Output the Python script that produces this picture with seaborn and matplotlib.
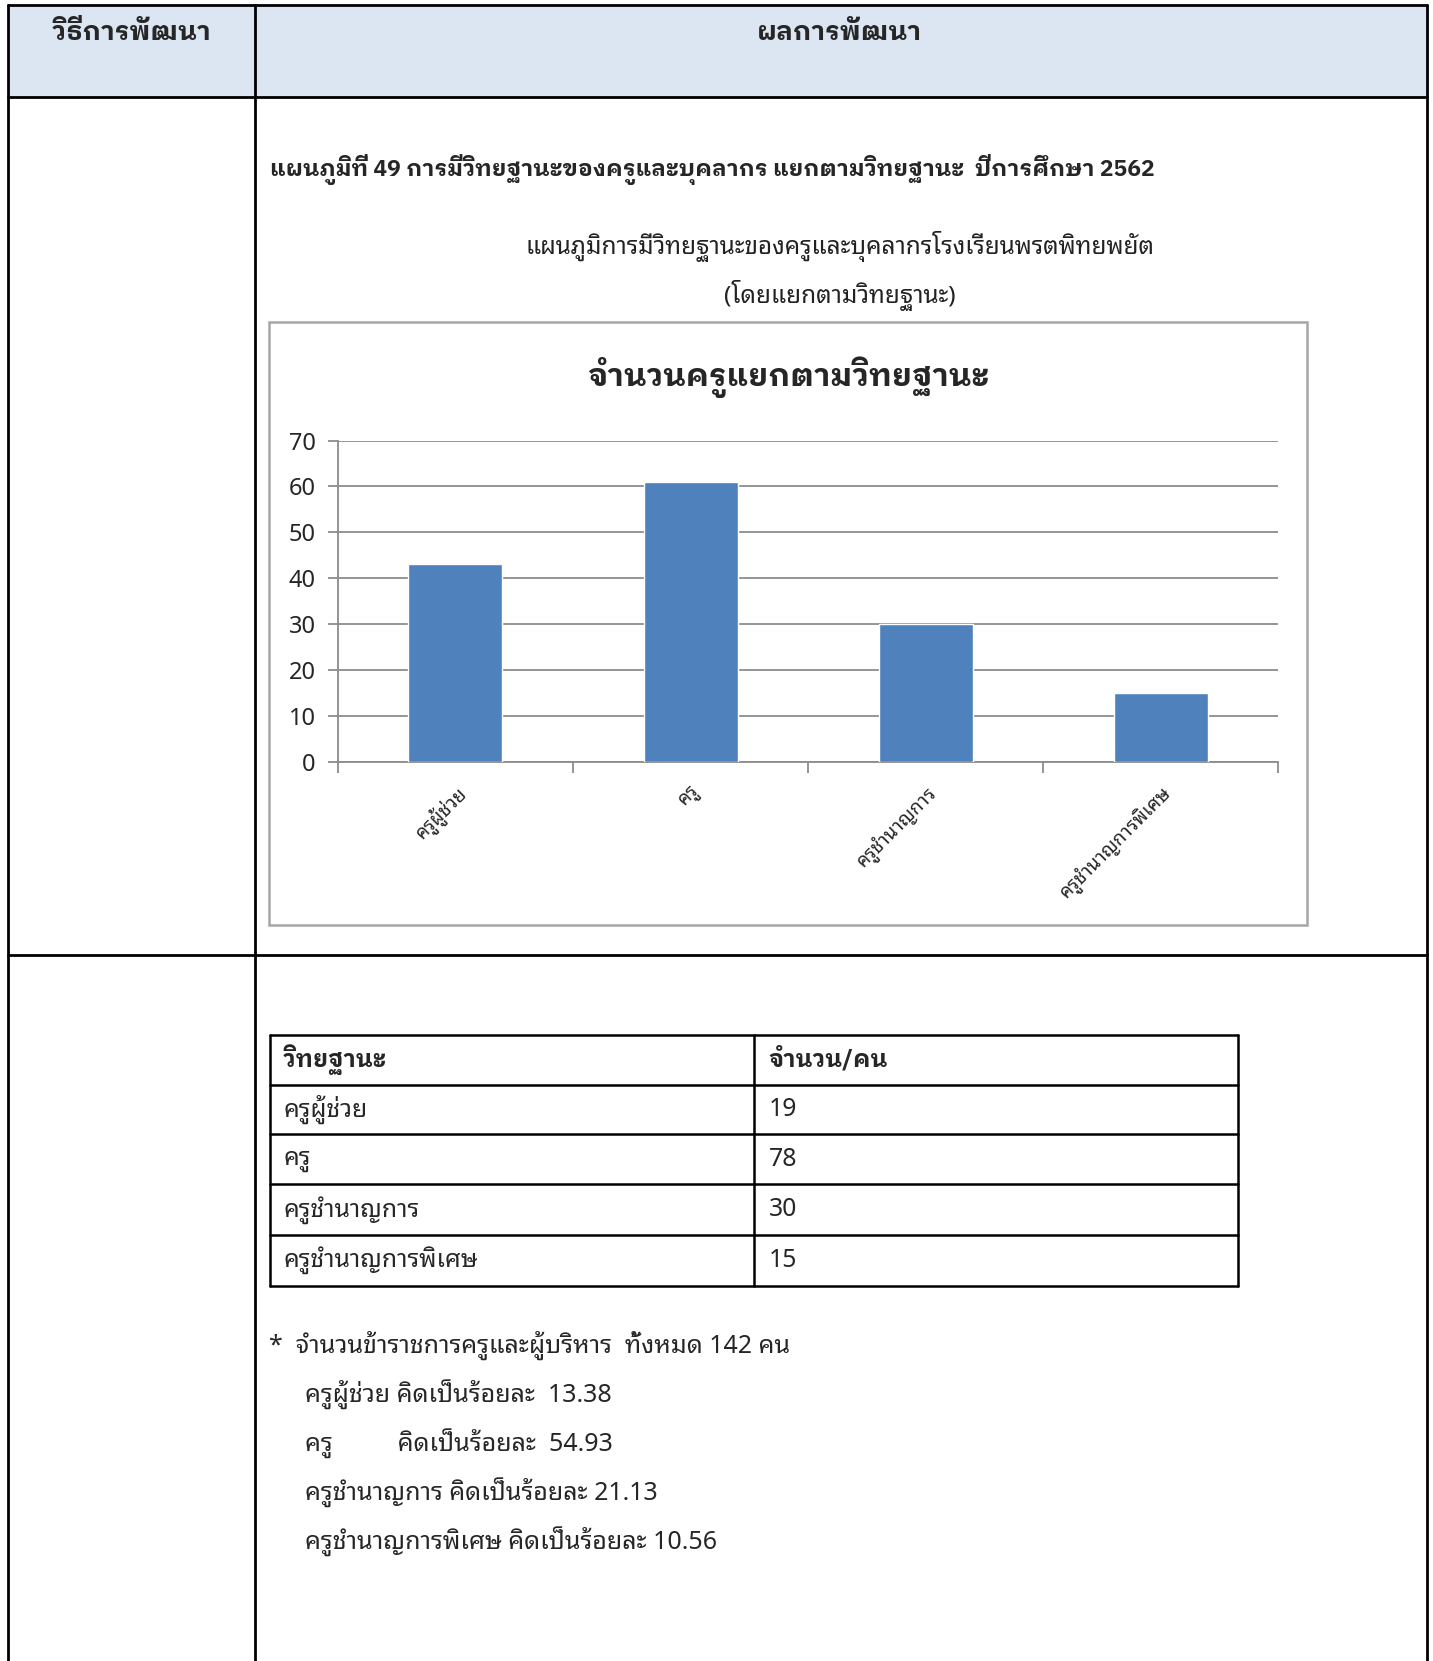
import matplotlib
matplotlib.use('Agg')
import matplotlib.pyplot as plt
from matplotlib.patches import Rectangle
import seaborn as sns
import pandas as pd

# chart data
categories = ['ครูผู้ช่วย', 'ครู', 'ครูชำนาญการ', 'ครูชำนาญการพิเศษ']
chart_values = [43, 61, 30, 15]
y_ticks = [0, 10, 20, 30, 40, 50, 60, 70]

# table data
table_header = ['วิทยฐานะ', 'จำนวน/คน']
table_counts = ['19', '78', '30', '15']
total_text = '*  จำนวนข้าราชการครูและผู้บริหาร  ทั้งหมด 142 คน'
percent_lines = ['ครูผู้ช่วย คิดเป็นร้อยละ  13.38',
                 'ครู          คิดเป็นร้อยละ  54.93',
                 'ครูชำนาญการ คิดเป็นร้อยละ 21.13',
                 'ครูชำนาญการพิเศษ คิดเป็นร้อยละ 10.56']

sns.set_theme(style='white')
LOOP = ['Noto Sans Thai Looped', 'DejaVu Sans']
BOLD = ['IBM Plex Sans Thai Looped', 'Noto Sans Thai Looped', 'DejaVu Sans']
plt.rcParams['font.family'] = LOOP

W, H = 1433, 1661
S = 1433 / 1353
fig = plt.figure(figsize=(W / 100, H / 100), dpi=100)
bg = fig.add_axes([0, 0, 1, 1])
bg.set_xlim(0, W)
bg.set_ylim(H, 0)
bg.axis('off')


def px(v):
    return v * S


# outer document table
bg.add_patch(Rectangle((px(8), px(5)), px(1347 - 8), px(92 - 5), facecolor='#dce6f2', edgecolor='none'))
lw = 2.0
bg.plot([px(8), px(1347)], [px(5), px(5)], color='black', lw=lw)
bg.plot([px(8), px(1347)], [px(92), px(92)], color='black', lw=lw)
bg.plot([px(8), px(1347)], [px(902), px(902)], color='black', lw=lw)
bg.plot([px(8), px(8)], [px(5), H + 5], color='black', lw=lw)
bg.plot([px(1347), px(1347)], [px(5), H + 5], color='black', lw=lw)
bg.plot([px(241), px(241)], [px(5), H + 5], color='black', lw=lw)

bg.text(px(124), px(31), 'วิธีการพัฒนา', ha='center', va='center', fontsize=19, fontweight='bold', family=BOLD)
bg.text(px(793), px(31), 'ผลการพัฒนา', ha='center', va='center', fontsize=19, fontweight='bold', family=BOLD)

bg.text(px(255), px(160), 'แผนภูมิที่ 49 การมีวิทยฐานะของครูและบุคลากร แยกตามวิทยฐานะ  ปีการศึกษา 2562',
        ha='left', va='center', fontsize=16.5, fontweight='bold', family=BOLD)
bg.text(px(793), px(233), 'แผนภูมิการมีวิทยฐานะของครูและบุคลากรโรงเรียนพรตพิทยพยัต',
        ha='center', va='center', fontsize=17.5, family=LOOP, color='#222222')
bg.text(px(793), px(279), '(โดยแยกตามวิทยฐานะ)',
        ha='center', va='center', fontsize=17.5, family=LOOP, color='#222222')

# chart frame
bg.add_patch(Rectangle((px(254), px(304)), px(1234 - 254), px(873 - 304), facecolor='white',
                       edgecolor='#a6a6a6', lw=1.8))
bg.text(px(744), px(356), 'จำนวนครูแยกตามวิทยฐานะ', ha='center', va='center',
        fontsize=22.7, fontweight='bold', family=BOLD)

# chart axes
x0, x1, ytop, ybot = px(319), px(1207), px(416), px(719)
ax = fig.add_axes([x0 / W, 1 - ybot / H, (x1 - x0) / W, (ybot - ytop) / H])
df = pd.DataFrame({'cat': categories, 'val': chart_values})
sns.barplot(data=df, x='cat', y='val', color='#4f81bd', width=0.4, saturation=1, ax=ax, zorder=3)
ax.set_xlim(-0.5, len(categories) - 0.5)
ax.set_ylim(0, 70)
ax.set_yticks(y_ticks)
ax.set_xlabel('')
ax.set_ylabel('')
ax.yaxis.grid(True, color='#8c8c8c', lw=1.3, zorder=0)
ax.set_axisbelow(True)
for s in ['top', 'right']:
    ax.spines[s].set_visible(False)
for s in ['left', 'bottom']:
    ax.spines[s].set_color('#8c8c8c')
    ax.spines[s].set_linewidth(1.3)
ax.tick_params(axis='y', length=7, width=1.3, color='#8c8c8c', labelsize=17, pad=9, left=True)
ax.set_xticks([i - 0.5 for i in range(len(categories) + 1)], minor=True)
ax.tick_params(axis='x', which='minor', length=8, width=1.3, color='#8c8c8c', bottom=True)
ax.tick_params(axis='x', which='major', length=0, pad=15, labelsize=13.6)
for lab in ax.get_xticklabels():
    lab.set_rotation(45)
    lab.set_ha('right')
    lab.set_rotation_mode('anchor')
    lab.set_family(LOOP)

# data table under the chart
tx0, tx1, tmid = px(255), px(1169), px(712)
rows_y = [977, 1024, 1071, 1118, 1166, 1214]
for y in rows_y:
    bg.plot([tx0, tx1], [px(y), px(y)], color='black', lw=1.8)
for x in [tx0, tmid, tx1]:
    bg.plot([x, x], [px(rows_y[0]), px(rows_y[-1])], color='black', lw=1.8)
bg.text(px(268), px(1000), table_header[0], ha='left', va='center', fontsize=17, fontweight='bold', family=BOLD)
bg.text(px(726), px(1000), table_header[1], ha='left', va='center', fontsize=17, fontweight='bold', family=BOLD)
for i, (name, cnt) in enumerate(zip(categories, table_counts)):
    yc = px((rows_y[i + 1] + rows_y[i + 2]) / 2)
    bg.text(px(268), yc, name, ha='left', va='center', fontsize=17.8, family=LOOP)
    bg.text(px(726), yc, cnt, ha='left', va='center', fontsize=17.8, family=LOOP)

bg.text(px(254), px(1270), total_text, ha='left', va='center', fontsize=18, family=LOOP)
for i, line in enumerate(percent_lines):
    bg.text(px(288), px(1317 + i * 46.3), line, ha='left', va='center', fontsize=18, family=LOOP)

fig.savefig('out.png', dpi=100)
